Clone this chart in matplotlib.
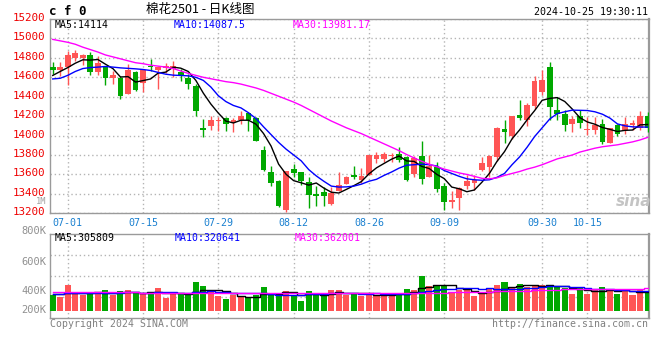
import matplotlib
matplotlib.use('Agg')
import matplotlib.pyplot as plt
import matplotlib.transforms as mtransforms
import numpy as np
import pandas as pd

# ---------------- data ----------------
all_days = pd.bdate_range('2024-06-27', '2024-10-25')
holidays = pd.to_datetime(['2024-09-16', '2024-09-17', '2024-10-01', '2024-10-02',
                           '2024-10-03', '2024-10-04', '2024-10-07'])
dates = all_days[~all_days.isin(holidays)]
date_labels = [d.strftime('%m-%d') for d in dates]

opens = [14711, 14677, 14711, 14800, 14800, 14834, 14653, 14715, 14592, 14595,
         14431, 14653, 14540, 14715, 14677, 14694, 14687, 14653, 14595, 14506,
         14073, 14100, 14148, 14185, 14141, 14158, 14233, 14182, 13851, 13622,
         13533, 13230, 13656, 13622, 13519, 13400, 13424, 13294, 13434, 13502,
         13595, 13543, 13595, 13758, 13758, 13789, 13810, 13782, 13605, 13789,
         13578, 13680, 13485, 13321, 13362, 13485, 13509, 13646, 13680, 13782,
         14066, 13994, 14209, 14158, 14301, 14448, 14704, 14260, 14226, 14124,
         14199, 14055, 14055, 14124, 13926, 14107, 14062, 14107, 14083, 14199]
highs = [14756, 14762, 14875, 14882, 14840, 14865, 14814, 14721, 14663, 14609,
         14732, 14663, 14677, 14790, 14721, 14745, 14766, 14687, 14636, 14527,
         14175, 14199, 14192, 14192, 14182, 14250, 14243, 14192, 13892, 13687,
         13540, 13640, 13704, 13629, 13578, 13485, 13475, 13475, 13622, 13584,
         13687, 13670, 13805, 13827, 13834, 13823, 13878, 13793, 13793, 13943,
         13799, 13724, 13509, 13431, 13475, 13595, 13595, 13775, 13799, 14085,
         14165, 14205, 14369, 14335, 14609, 14670, 14762, 14397, 14260, 14199,
         14260, 14192, 14192, 14175, 14083, 14117, 14192, 14158, 14253, 14243]
lows = [14636, 14609, 14517, 14766, 14728, 14619, 14626, 14523, 14527, 14373,
        14431, 14455, 14448, 14663, 14482, 14643, 14602, 14558, 14482, 14199,
        13987, 14055, 14049, 14049, 14032, 14117, 14049, 13940, 13639, 13485,
        13260, 13210, 13578, 13492, 13253, 13280, 13280, 13290, 13430, 13500,
        13550, 13509, 13590, 13714, 13731, 13724, 13724, 13537, 13578, 13502,
        13575, 13424, 13236, 13253, 13236, 13450, 13441, 13635, 13578, 13741,
        13926, 13963, 14158, 14097, 14277, 14414, 14158, 14158, 14049, 14038,
        14073, 14004, 14021, 13912, 13920, 13997, 14021, 14055, 14055, 14038]
closes = [14670, 14711, 14834, 14851, 14834, 14653, 14745, 14592, 14619, 14407,
          14670, 14465, 14670, 14704, 14704, 14721, 14721, 14619, 14534, 14250,
          14062, 14158, 14150, 14124, 14158, 14199, 14158, 13946, 13646, 13509,
          13270, 13635, 13618, 13536, 13390, 13383, 13373, 13405, 13492, 13578,
          13578, 13584, 13799, 13799, 13806, 13799, 13748, 13543, 13772, 13554,
          13687, 13451, 13321, 13338, 13465, 13533, 13543, 13721, 13793, 14079,
          14038, 14199, 14182, 14311, 14557, 14568, 14295, 14226, 14107, 14168,
          14131, 14066, 14114, 13936, 14073, 14021, 14124, 14131, 14199, 14083]

ma5 = [14619, 14660, 14700, 14745, 14780, 14777, 14783, 14735, 14689, 14603,
       14607, 14551, 14566, 14583, 14643, 14653, 14704, 14694, 14660, 14569,
       14437, 14325, 14231, 14149, 14130, 14158, 14158, 14117, 14021, 13892,
       13706, 13601, 13536, 13514, 13490, 13512, 13460, 13417, 13409, 13446,
       13485, 13527, 13606, 13668, 13713, 13757, 13790, 13739, 13734, 13683,
       13661, 13601, 13557, 13470, 13452, 13422, 13440, 13520, 13611, 13734,
       13835, 13966, 14058, 14162, 14257, 14363, 14383, 14391, 14351, 14273,
       14185, 14140, 14117, 14083, 14064, 14042, 14054, 14057, 14110, 14114]
ma10 = [14583, 14590, 14620, 14660, 14690, 14700, 14705, 14711, 14705, 14697,
        14692, 14687, 14680, 14670, 14650, 14632, 14622, 14619, 14615, 14600,
        14568, 14500, 14410, 14350, 14310, 14285, 14235, 14175, 14090, 14010,
        13930, 13860, 13800, 13740, 13650, 13585, 13530, 13480, 13470, 13472,
        13480, 13500, 13530, 13550, 13590, 13625, 13665, 13695, 13700, 13705,
        13700, 13687, 13640, 13610, 13580, 13555, 13545, 13540, 13545, 13570,
        13610, 13700, 13780, 13880, 13990, 14080, 14170, 14226, 14245, 14262,
        14260, 14258, 14245, 14220, 14180, 14120, 14100, 14090, 14088, 14087.5]
ma30 = [14990, 14975, 14960, 14940, 14910, 14885, 14860, 14830, 14810, 14790,
        14770, 14750, 14740, 14725, 14715, 14705, 14690, 14665, 14640, 14620,
        14600, 14585, 14570, 14555, 14545, 14530, 14510, 14490, 14465, 14435,
        14405, 14375, 14345, 14310, 14270, 14230, 14190, 14150, 14115, 14080,
        14050, 14020, 13985, 13950, 13915, 13880, 13845, 13805, 13770, 13735,
        13705, 13680, 13655, 13635, 13615, 13600, 13580, 13560, 13555, 13565,
        13590, 13610, 13630, 13655, 13675, 13700, 13730, 13760, 13780, 13800,
        13830, 13850, 13870, 13885, 13895, 13905, 13920, 13935, 13955, 13981.17]

# volume in thousands of lots
volumes = [250, 225, 420, 265, 258, 300, 277, 340, 252, 326,
           337, 294, 272, 285, 372, 215, 270, 265, 265, 472,
           408, 312, 245, 193, 258, 228, 201, 255, 380, 255,
           283, 326, 244, 163, 326, 283, 255, 337, 337, 255,
           288, 244, 288, 239, 239, 288, 272, 353, 337, 565,
           402, 418, 402, 283, 337, 337, 239, 283, 348, 418,
           467, 380, 435, 380, 418, 418, 402, 380, 364, 272,
           364, 272, 337, 380, 337, 272, 337, 255, 348, 310]
vol_ma5 = [270, 275, 285, 285, 284, 294, 304, 288, 285, 299,
           306, 310, 296, 303, 312, 288, 283, 281, 277, 297,
           336, 344, 340, 326, 283, 247, 225, 227, 264, 264,
           275, 300, 298, 254, 268, 268, 254, 273, 308, 293,
           294, 292, 282, 263, 260, 260, 265, 278, 298, 363,
           386, 415, 425, 414, 368, 355, 320, 296, 309, 325,
           351, 379, 410, 416, 416, 406, 411, 400, 396, 367,
           356, 330, 322, 325, 338, 320, 333, 316, 310, 306]
vol_ma10 = [280, 280, 282, 283, 284, 286, 288, 290, 290, 292,
            300, 307, 292, 294, 306, 297, 297, 289, 290, 305,
            312, 314, 311, 302, 290, 292, 285, 284, 295, 274,
            261, 263, 263, 259, 266, 272, 277, 286, 281, 281,
            281, 273, 278, 286, 277, 277, 279, 280, 281, 312,
            323, 340, 352, 356, 366, 371, 368, 361, 362, 347,
            353, 350, 353, 363, 371, 379, 395, 405, 406, 392,
            381, 371, 361, 361, 353, 338, 332, 319, 318, 321]
vol_ma30 = [300, 300, 301, 301, 300, 300, 299, 299, 298, 298,
            297, 297, 296, 296, 296, 295, 295, 294, 294, 294,
            294, 293, 293, 292, 292, 291, 291, 290, 290, 290,
            289, 289, 288, 288, 287, 287, 287, 286, 286, 286,
            286, 285, 285, 285, 285, 286, 286, 287, 287, 289,
            291, 293, 296, 298, 300, 303, 305, 308, 310, 313,
            317, 321, 325, 329, 332, 336, 339, 343, 347, 350,
            352, 354, 355, 356, 357, 358, 359, 360, 361, 362]

tick_dates = ['07-01', '07-15', '07-29', '08-12', '08-26', '09-09', '09-30', '10-15']
price_ticks = list(range(13200, 15201, 200))
vol_tick_labels = ['800K', '600K', '400K', '200K']
price_legend = ['MA5:14114', 'MA10:14087.5', 'MA30:13981.17']
vol_legend = ['MA5:305809', 'MA10:320641', 'MA30:362001']

# ---------------- drawing ----------------
W, H = 660, 360
MONO = 'DejaVu Sans Mono'
RED = '#ff5555'
GREEN = '#00a800'
GRID = '#b4b4b4'
SPINE = '#9a9a9a'
MA_COLORS = ['#000000', '#0000ff', '#ff00ff']

fig = plt.figure(figsize=(W / 100, H / 100), dpi=100)
fig.patch.set_facecolor('white')


def rect(l, t, r, b):
    return [l / W, 1 - b / H, (r - l) / W, (b - t) / H]


def fpos(xp, yp):
    return xp / W, 1 - yp / H


axp = fig.add_axes(rect(50, 19, 649, 213.3))
axv = fig.add_axes(rect(50, 234, 649, 318.3))

x = np.arange(len(dates))
o = np.array(opens, float)
c = np.array(closes, float)
hi = np.array(highs, float)
lo = np.array(lows, float)
up = c >= o
cols = np.where(up, RED, GREEN)

xticks = [date_labels.index(d) for d in tick_dates]
xlim = (-0.36, 79.19)

# price panel
axp.vlines(x, lo, hi, colors=cols, lw=1, zorder=3)
axp.bar(x, np.maximum(np.abs(c - o), 9), bottom=np.minimum(o, c), width=0.76,
        color=cols, lw=0, zorder=4)
for vals, col in zip([ma5, ma10, ma30], MA_COLORS):
    axp.plot(x, vals, color=col, lw=1.0, zorder=5)
axp.set_xlim(*xlim)
axp.set_ylim(13200, 15200)
axp.set_yticks(price_ticks)
axp.set_yticklabels([str(t) for t in price_ticks])
axp.set_xticks(xticks)
axp.set_xticklabels(tick_dates)
axp.tick_params(axis='y', length=0, pad=3.5, labelsize=7.8, labelcolor='#ee0000')
axp.tick_params(axis='x', length=0, pad=3.2, labelsize=7.2, labelcolor='#1a80d0')
for lbl in axp.get_yticklabels() + axp.get_xticklabels():
    lbl.set_family(MONO)
for lbl in axp.get_yticklabels():
    lbl.set_transform(lbl.get_transform() +
                      mtransforms.ScaledTranslation(0, 2 / 100, fig.dpi_scale_trans))
axp.grid(True, color=GRID, ls=(0, (1, 2)), lw=1, zorder=0)
for s in axp.spines.values():
    s.set_color(SPINE)
    s.set_linewidth(1)
axp.spines['right'].set_linewidth(1.6)

# volume panel
v = np.array(volumes, float)
axv.bar(x, v, width=0.8, color=cols, lw=0, zorder=3)
for vals, col in zip([vol_ma5, vol_ma10, vol_ma30], MA_COLORS):
    axv.plot(x, vals, color=col, lw=1.0, drawstyle='steps-mid', zorder=5)
axv.set_xlim(*xlim)
axv.set_ylim(-124, 1250)
axv.set_xticks(xticks)
axv.set_xticklabels([])
axv.set_yticks([])
axv.tick_params(length=0)
axv.grid(True, axis='x', color=GRID, ls=(0, (1, 2)), lw=1, zorder=0)
for f in (0.25, 0.5, 0.75):
    axv.plot([0, 1], [f, f], transform=axv.transAxes, color=GRID,
             ls=(0, (1, 2)), lw=1, zorder=0)
for s in axv.spines.values():
    s.set_color(SPINE)
    s.set_linewidth(1)
axv.spines['right'].set_linewidth(1.6)
for lab, fy in zip(vol_tick_labels, [1.039, 0.671, 0.327, 0.098]):
    axv.text(-0.0067, fy, lab, transform=axv.transAxes, ha='right', va='center',
             family=MONO, fontsize=7.5, color='#909090', clip_on=False)

# header texts
fig.text(*fpos(49, 11.5), 'c f 0', family=MONO, fontweight='bold', fontsize=9,
         ha='left', va='center', color='black')
fig.text(*fpos(200, 9.5), '棉花2501 - 日K线图',
         family=['Noto Sans CJK SC', 'DejaVu Sans'], fontsize=9, ha='center',
         va='center', color='black')
fig.text(*fpos(648, 12.3), '2024-10-25 19:30:11', family=MONO, fontsize=7.2,
         ha='right', va='center', color='black')

for txt, col, xp in zip(price_legend, MA_COLORS, [55, 174, 293]):
    fig.text(*fpos(xp, 25), txt, family=MONO, fontsize=7.1, color=col,
             ha='left', va='center')
for txt, col, xp in zip(vol_legend, MA_COLORS, [55, 175, 295]):
    fig.text(*fpos(xp, 238.3), txt, family=MONO, fontsize=7.1, color=col,
             ha='left', va='center')

fig.text(*fpos(46, 201.5), '1M', family=MONO, fontsize=6.2, color='#a0a0a0',
         ha='right', va='center')

# footer
fig.text(*fpos(50, 324), 'Copyright 2024 SINA.COM', family=MONO, fontsize=7.1,
         color='#808080', ha='left', va='center')
fig.text(*fpos(648, 324), 'http://finance.sina.com.cn', family=MONO, fontsize=7.1,
         color='#808080', ha='right', va='center')

# watermark
fig.text(*fpos(634, 201), 'sina', fontsize=11, fontweight='bold', style='italic',
         color='#c4c4c4', ha='center', va='center')

fig.savefig('out.png', dpi=100, facecolor='white')
